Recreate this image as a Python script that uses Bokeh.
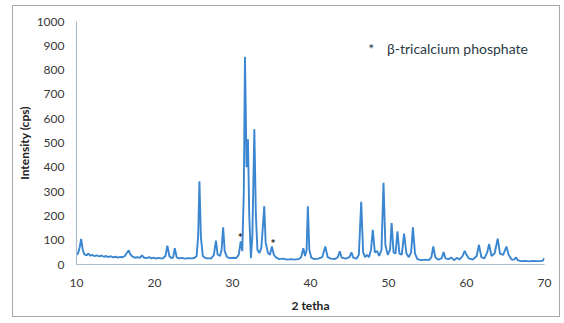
from bokeh.plotting import figure
from bokeh.models import FixedTicker, Range1d
from bokeh.core.properties import value
from bokeh.embed import file_html
from bokeh.resources import INLINE

# XRD pattern (2-theta, intensity in cps)
two_theta = [
    10.0, 10.2, 10.4, 10.6, 10.8, 11.0, 11.3, 11.5, 11.8, 12.0, 12.3, 12.6, 12.9, 13.2, 13.5,
    13.8, 14.1, 14.4, 14.7, 15.0, 15.3, 15.6, 15.9, 16.2, 16.5, 16.7, 16.9, 17.2, 17.5, 17.8,
    18.1, 18.4, 18.7, 19.0, 19.3, 19.6, 19.9, 20.2, 20.5, 20.8, 21.1, 21.4, 21.65, 21.9, 22.2,
    22.4, 22.6, 22.85, 23.1, 23.5, 23.9, 24.3, 24.7, 25.1, 25.4, 25.6, 25.76, 25.95, 26.2, 26.5,
    26.9, 27.3, 27.6, 27.88, 28.1, 28.4, 28.6, 28.8, 29.0, 29.3, 29.7, 30.1, 30.5, 30.8, 31.05,
    31.25, 31.45, 31.6, 31.8, 31.98, 32.15, 32.36, 32.55, 32.8, 33.0, 33.2, 33.45, 33.7, 33.9, 34.07,
    34.25, 34.55, 34.8, 35.05, 35.3, 35.6, 36.0, 36.5, 37.0, 37.5, 38.0, 38.5, 38.8, 39.08, 39.3,
    39.5, 39.66, 39.85, 40.1, 40.5, 41.0, 41.5, 41.9, 42.2, 42.6, 43.1, 43.5, 43.75, 44.0, 44.5,
    45.0, 45.25, 45.5, 45.9, 46.2, 46.5, 46.75, 47.0, 47.26, 47.5, 47.75, 47.99, 48.25, 48.55, 48.8,
    49.1, 49.36, 49.6, 49.9, 50.2, 50.4, 50.65, 50.9, 51.15, 51.4, 51.7, 52.0, 52.3, 52.6, 52.9,
    53.13, 53.4, 53.7, 54.2, 54.7, 55.2, 55.5, 55.74, 56.0, 56.4, 56.8, 57.07, 57.3, 57.7, 58.05,
    58.4, 58.8, 59.1, 59.5, 59.77, 60.0, 60.3, 60.8, 61.3, 61.6, 61.9, 62.3, 62.65, 62.9, 63.2,
    63.6, 64.0, 64.3, 64.7, 65.12, 65.4, 65.8, 66.1, 66.36, 66.6, 67.0, 67.5, 68.0, 68.5, 69.0,
    69.5, 69.8, 69.96,
]
intensity = [
    40, 45, 70, 105, 60, 42, 38, 45, 36, 40, 34, 38, 33, 37, 32,
    35, 30, 34, 29, 32, 28, 31, 30, 35, 50, 58, 42, 32, 28, 30,
    27, 37, 28, 26, 30, 25, 28, 24, 27, 25, 26, 35, 77, 35, 26,
    30, 67, 30, 25, 27, 24, 26, 25, 27, 35, 120, 343, 110, 35, 27,
    25, 26, 38, 98, 40, 35, 60, 153, 55, 30, 26, 28, 27, 40, 95,
    55, 300, 855, 400, 515, 200, 26, 120, 556, 200, 60, 47, 70, 160, 240,
    90, 47, 40, 74, 40, 28, 22, 24, 20, 22, 20, 23, 30, 67, 35,
    60, 240, 60, 28, 22, 24, 30, 74, 30, 24, 22, 30, 54, 28, 24,
    30, 50, 27, 24, 40, 258, 50, 30, 40, 30, 60, 143, 50, 55, 35,
    60, 336, 80, 40, 60, 171, 50, 45, 136, 45, 40, 127, 45, 30, 50,
    153, 45, 22, 18, 20, 18, 30, 74, 30, 20, 25, 51, 25, 22, 29,
    18, 28, 20, 35, 56, 40, 25, 20, 35, 81, 30, 25, 50, 84, 35,
    45, 106, 45, 40, 74, 40, 20, 20, 29, 17, 14, 15, 13, 15, 14,
    14, 16, 26,
]

x_ticks = [10, 20, 30, 40, 50, 60, 70]
y_ticks = [0, 100, 200, 300, 400, 500, 600, 700, 800, 900, 1000]

star_x = [31.0, 35.2]
star_y = [112, 86]
legend_star_x = [47.8]
legend_text_x = [49.8]
legend_y = [888]
legend_label = ["β-tricalcium phosphate"]

p = figure(width=548, height=312, output_backend="svg", toolbar_location=None,
           x_range=Range1d(10, 70), y_range=Range1d(0, 1000),
           min_border_left=62, min_border_right=17, min_border_top=15, min_border_bottom=54)
p.margin = (5, 0, 0, 12)
p.styles = {"border": "1px solid #a8a8a8"}
p.outline_line_color = None
p.grid.grid_line_color = None
p.background_fill_color = "white"
p.border_fill_color = "white"

p.line(two_theta, intensity, line_color="#3a86d0", line_width=1.9)

p.text(star_x, star_y, text=["*", "*"], text_font=value("Lato"), text_font_size="12px",
       text_font_style="bold", text_color="#222222", text_align="center", text_baseline="middle")
p.text(legend_star_x, legend_y, text=["*"], text_font=value("Lato"), text_font_size="14px",
       text_color="#2b3a45", text_align="center", text_baseline="middle")
p.text(legend_text_x, legend_y, text=legend_label, text_font=value("Lato"), text_font_size="14px",
       text_color="#2b3a45", text_align="left", text_baseline="middle")

for ax in (p.xaxis[0], p.yaxis[0]):
    ax.axis_line_color = "#a9bcd0"
    ax.axis_line_width = 1.2
    ax.major_tick_line_color = None
    ax.minor_tick_line_color = None
    ax.major_tick_out = 0
    ax.major_tick_in = 0
    ax.minor_tick_out = 0
    ax.major_label_text_font = "Lato"
    ax.major_label_text_font_size = "12px"
    ax.major_label_text_color = "#383838"
    ax.axis_label_text_font = "Lato"
    ax.axis_label_text_font_size = "12px"
    ax.axis_label_text_font_style = "bold"
    ax.axis_label_text_color = "#222222"

p.xaxis.ticker = FixedTicker(ticks=x_ticks)
p.yaxis.ticker = FixedTicker(ticks=y_ticks)
p.xaxis.axis_label = "2 tetha"
p.yaxis.axis_label = "Intensity (cps)"
p.xaxis.major_label_standoff = 14
p.yaxis.major_label_standoff = 12
p.xaxis.axis_label_standoff = 8
p.yaxis.axis_label_standoff = 2

open("out.html", "w").write(file_html(p, INLINE))
